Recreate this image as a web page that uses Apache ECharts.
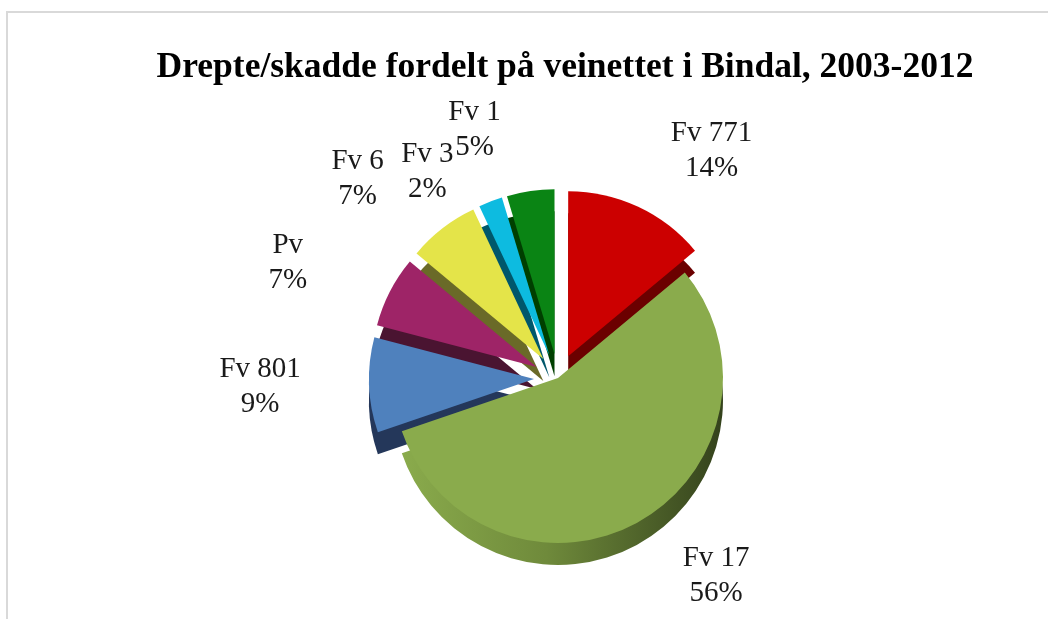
<!DOCTYPE html>
<html>
<head>
<meta charset="utf-8">
<script src="https://cdn.jsdelivr.net/npm/echarts@6/dist/echarts.min.js"></script>
<style>
  html, body { margin: 0; padding: 0; background: #fff; }
  #chart { width: 1048px; height: 619px; }
</style>
</head>
<body>
<div id="chart"></div>
<script>
  // Drepte/skadde per veg, Bindal 2003-2012
  var roads = ['Fv 771', 'Fv 17', 'Fv 801', 'Pv', 'Fv 6', 'Fv 3', 'Fv 1'];
  var counts = [6, 24, 4, 3, 3, 1, 2];
  var exploded = [true, false, true, true, true, true, true];

  var topColors = ['#cc0000', '#8aab4c', '#4f81bd', '#9e2467', '#e4e449', '#0dbbe0', '#0a8414'];
  var sideColors = ['#6b0000', null, '#24375a', '#4a1431', '#6a6a28', '#00576b', '#003f00'];

  var chart = echarts.init(document.getElementById('chart'));
  var font = '"Liberation Serif", "Times New Roman", serif';

  sideColors[1] = new echarts.graphic.LinearGradient(0, 0, 1, 0, [
    { offset: 0, color: '#8aab4c' },
    { offset: 0.45, color: '#6f8a3b' },
    { offset: 1, color: '#34421c' }
  ]);

  function pieData(colors) {
    return roads.map(function (name, i) {
      return {
        name: name,
        value: counts[i],
        selected: exploded[i],
        itemStyle: { color: colors[i] }
      };
    });
  }

  var option = {
    animation: false,
    title: {
      text: 'Drepte/skadde fordelt på veinettet i Bindal, 2003-2012',
      left: 560,
      textAlign: 'center',
      top: 45,
      textStyle: {
        fontFamily: font,
        fontSize: 35.5,
        fontWeight: 'bold',
        color: '#000'
      }
    },
    graphic: [{
      type: 'rect',
      shape: { x: 7, y: 12, width: 1060, height: 640 },
      style: { fill: null, stroke: '#d9d9d9', lineWidth: 2 },
      silent: true
    }],
    series: [
      {
        // sidekant (tykkelse)
        type: 'pie',
        center: [558, 400],
        radius: 165,
        startAngle: 90,
        selectedMode: 'multiple',
        selectedOffset: 24,
        silent: true,
        z: 1,
        label: { show: false },
        labelLine: { show: false },
        data: pieData(sideColors)
      },
      {
        type: 'pie',
        center: [558, 378],
        radius: 165,
        startAngle: 90,
        selectedMode: 'multiple',
        selectedOffset: 24,
        percentPrecision: 0,
        avoidLabelOverlap: false,
        minShowLabelAngle: 0,
        z: 2,
        label: {
          show: true,
          position: 'outside',
          formatter: '{a|{b}}\n{a|{d}%}',
          rich: {
            a: {
              fontFamily: font,
              fontSize: 29,
              lineHeight: 35,
              width: 84,
              align: 'center',
              color: '#1a1a1a'
            }
          }
        },
        // Fv 3 ligger tett inntil Fv 1, flytt den litt ned
        labelLayout: function (params) {
          if (roads[params.dataIndex] === 'Fv 3') {
            return { dx: 6, dy: 28, hideOverlap: false };
          }
          return { hideOverlap: false };
        },
        labelLine: { show: false, length: 62, length2: 0 },
        data: pieData(topColors)
      }
    ]
  };

  chart.setOption(option);
</script>
</body>
</html>
